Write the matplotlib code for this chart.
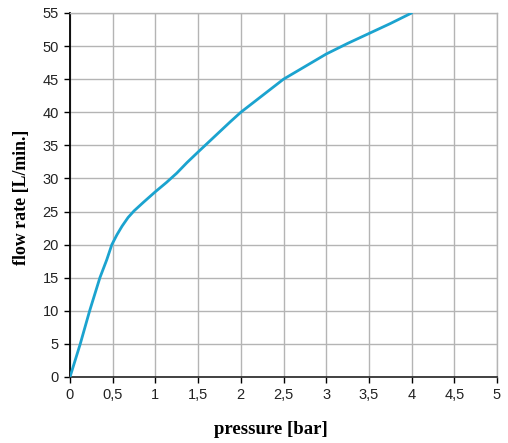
import matplotlib
matplotlib.use('Agg')
import matplotlib.pyplot as plt
from matplotlib.ticker import FuncFormatter

# values
pressure = [0, 0.12, 0.23, 0.35, 0.43, 0.49, 0.55, 0.61, 0.68, 0.75, 0.86, 1.0, 1.13,
            1.25, 1.37, 1.5, 1.88, 2.0, 2.25, 2.5, 2.75, 3.0, 3.25, 3.5, 3.75, 4.0]
flow_rate = [0, 5, 10, 15, 17.7, 20, 21.5, 22.8, 24.1, 25.1, 26.4, 28.0, 29.4,
             30.8, 32.4, 34.0, 38.6, 40, 42.5, 45, 46.9, 48.8, 50.4, 51.9, 53.4, 55]

x_ticks = [0, 0.5, 1, 1.5, 2, 2.5, 3, 3.5, 4, 4.5, 5]
y_ticks = list(range(0, 60, 5))

fig = plt.figure(figsize=(5.08, 4.43), dpi=100)
ax = fig.add_axes([70/508, 66/443, 427/508, 364/443])

ax.plot(pressure, flow_rate, color='#1ba3cf', linewidth=2, solid_capstyle='round',
        solid_joinstyle='round', zorder=3)

ax.set_xlim(0, 5)
ax.set_ylim(0, 55)
ax.set_xticks(x_ticks)
ax.set_yticks(y_ticks)
ax.xaxis.set_major_formatter(FuncFormatter(lambda v, p: f'{v:g}'.replace('.', ',')))

ax.grid(True, color='#b4b4b4', linewidth=1)
ax.set_axisbelow(True)
for key in ['top', 'right']:
    ax.spines[key].set_color('#b4b4b4')
    ax.spines[key].set_linewidth(1)
for key in ['left', 'bottom']:
    ax.spines[key].set_color('black')
    ax.spines[key].set_linewidth(1.3)
ax.spines['bottom'].set_color('#333333')

ax.tick_params(direction='out', length=4, width=1, colors='black', labelsize=10.5, pad=4)
for lab in ax.get_xticklabels() + ax.get_yticklabels():
    lab.set_family('Liberation Sans')
    lab.set_color('#222222')

label_kw = dict(family='Liberation Serif', fontweight='bold')
fig.text(271/508, 1 - 430/443, 'pressure [bar]', ha='center', va='center', fontsize=13.5, **label_kw)
fig.text(22/508, 1 - 197/443, 'flow rate [L/min.]', ha='center', va='center', rotation=90,
         fontsize=12.8, **label_kw)

fig.savefig('out.png', dpi=100)
